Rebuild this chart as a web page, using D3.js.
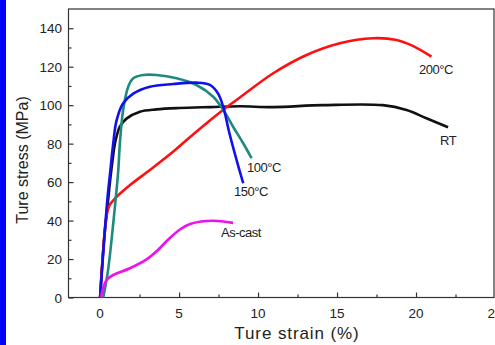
<!DOCTYPE html>
<html>
<head>
<meta charset="utf-8">
<script src="https://cdn.jsdelivr.net/npm/d3@7"></script>
<style>
  body { margin: 0; background: #fff; }
  text { font-family: "Liberation Sans", Arial, sans-serif; fill: #222; }
</style>
</head>
<body>
<div id="chart"></div>
<script>
// Chart params
var svgWidth = 495;
var svgHeight = 345;

// Curves (strain %, stress MPa)
var rtStrain = [0, 0.25, 0.5, 0.65, 0.8, 0.94, 1.25, 1.67, 2.52, 3.57, 5, 7, 8.85, 10.96, 14.1, 17.9, 19.4, 20.66, 22.03];
var rtStress = [0, 30, 50, 62, 72, 80, 88.8, 93, 96.6, 97.8, 98.5, 99, 99.4, 99, 100, 100, 97.5, 93.2, 88.5];

var t200Strain = [0, 0.2, 0.4, 0.6, 1.0, 1.9, 3.15, 4.5, 5.7, 7.7, 8.85, 10.96, 13.07, 15.18, 17.28, 18.77, 19.8, 20.98];
var t200Stress = [0, 25, 42, 48, 52, 58.5, 66.3, 75, 83.5, 97, 104, 116.6, 126.1, 132.2, 134.8, 133.9, 130.8, 125.2];

var t100Strain = [0.2, 0.5, 0.85, 1.15, 1.25, 1.46, 1.78, 2.1, 2.73, 3.57, 4.84, 6.1, 7.16, 7.8, 8.42, 9.06, 9.59];
var t100Stress = [0, 14, 40, 66, 80, 97.5, 109.6, 114, 115.7, 115.7, 114, 110.5, 104.4, 97.5, 88.8, 80.2, 72.4];

var t150Strain = [0, 0.45, 0.65, 0.83, 1.04, 1.46, 2.1, 3.15, 4.63, 6.1, 6.95, 7.47, 7.8, 8.2, 8.64, 9.06];
var t150Stress = [0, 50, 66, 80, 92, 101, 106, 109.6, 111, 111.7, 110.5, 106, 99, 85, 71.5, 59.4];

var castStrain = [0.05, 0.2, 0.41, 0.83, 1.89, 2.94, 3.6, 4.4, 5.1, 5.7, 6.4, 7.2, 8.42];
var castStress = [0, 5, 9.1, 11.7, 15.2, 19.8, 24.2, 30.8, 35.6, 38.2, 39.5, 39.9, 38.8];

var xTicks = [0, 5, 10, 15, 20, 25];
var yTicks = [0, 20, 40, 60, 80, 100, 120, 140];

function zip(xs, ys) {
    return xs.map(function(x, i) { return { x: x, y: ys[i] }; });
}

var series = [
    { name: "RT", color: "#111111", pts: zip(rtStrain, rtStress), lx: 440, ly: 145 },
    { name: "200°C", color: "#ff1010", pts: zip(t200Strain, t200Stress), lx: 419, ly: 74 },
    { name: "100°C", color: "#1e8a7e", pts: zip(t100Strain, t100Stress), lx: 247, ly: 172 },
    { name: "150°C", color: "#1010ee", pts: zip(t150Strain, t150Stress), lx: 234, ly: 196 },
    { name: "As-cast", color: "#ee10ee", pts: zip(castStrain, castStress), lx: 221, ly: 237 }
];

var svg = d3.select("#chart")
    .append("svg")
    .attr("width", svgWidth)
    .attr("height", svgHeight);

// blue strip down the left edge
svg.append("rect")
    .attr("x", 0).attr("y", 0)
    .attr("width", 6).attr("height", svgHeight)
    .attr("fill", "#0000ff");

// Create scale functions
var x = d3.scaleLinear().domain([-2, 25]).range([68.5, 495]);
var y = d3.scaleLinear().domain([0, 150]).range([297.5, 9]);

// frame
svg.append("rect")
    .attr("x", x(-2)).attr("y", y(150))
    .attr("width", x(25) - x(-2) - 1).attr("height", y(0) - y(150))
    .attr("fill", "none")
    .attr("stroke", "#333")
    .attr("stroke-width", 1.2);

// axes with inward ticks
var bottomAxis = d3.axisTop(x).tickValues(d3.range(0, 25.1, 2.5)).tickSize(5).tickFormat("");
var leftAxis = d3.axisRight(y).tickValues(d3.range(0, 150, 10)).tickSize(5).tickFormat("");

var gx = svg.append("g").attr("transform", `translate(0, ${y(0)})`).call(bottomAxis);
var gy = svg.append("g").attr("transform", `translate(${x(-2)}, 0)`).call(leftAxis);
[gx, gy].forEach(function(g) {
    g.select(".domain").remove();
    g.selectAll("line").attr("stroke", "#333").attr("stroke-width", 1.2);
});
gx.selectAll(".tick line").attr("y2", function(d) { return d % 5 === 0 ? -5 : -3; });
gy.selectAll(".tick line").attr("x2", function(d) { return d % 20 === 0 ? 5 : 3; });

// tick labels
svg.selectAll(".xlab")
    .data(xTicks)
    .enter()
    .append("text")
    .attr("x", d => x(d))
    .attr("y", 318)
    .attr("text-anchor", "middle")
    .style("font-size", "13.5px")
    .text(d => d);

svg.selectAll(".ylab")
    .data(yTicks)
    .enter()
    .append("text")
    .attr("x", 62)
    .attr("y", d => y(d) + 5)
    .attr("text-anchor", "end")
    .style("font-size", "13.5px")
    .text(d => d);

// axis titles
svg.append("text")
    .attr("x", 297)
    .attr("y", 339)
    .attr("text-anchor", "middle")
    .style("font-size", "17px")
    .style("letter-spacing", "0.9px")
    .text("Ture strain (%)");

svg.append("text")
    .attr("transform", "rotate(-90)")
    .attr("x", -160)
    .attr("y", 28)
    .attr("text-anchor", "middle")
    .style("font-size", "16px")
    .text("Ture stress (MPa)");

// curves
var line = d3.line()
    .x(d => x(d.x))
    .y(d => y(d.y))
    .curve(d3.curveCatmullRom.alpha(0.5));

svg.selectAll(".curve")
    .data(series)
    .enter()
    .append("path")
    .attr("d", d => line(d.pts))
    .attr("fill", "none")
    .attr("stroke", d => d.color)
    .attr("stroke-width", 2.6)
    .attr("stroke-linejoin", "round");

// curve labels
svg.selectAll(".clab")
    .data(series)
    .enter()
    .append("text")
    .attr("x", d => d.lx)
    .attr("y", d => d.ly)
    .style("font-size", "13px")
    .style("letter-spacing", "-0.5px")
    .text(d => d.name);
</script>
</body>
</html>
